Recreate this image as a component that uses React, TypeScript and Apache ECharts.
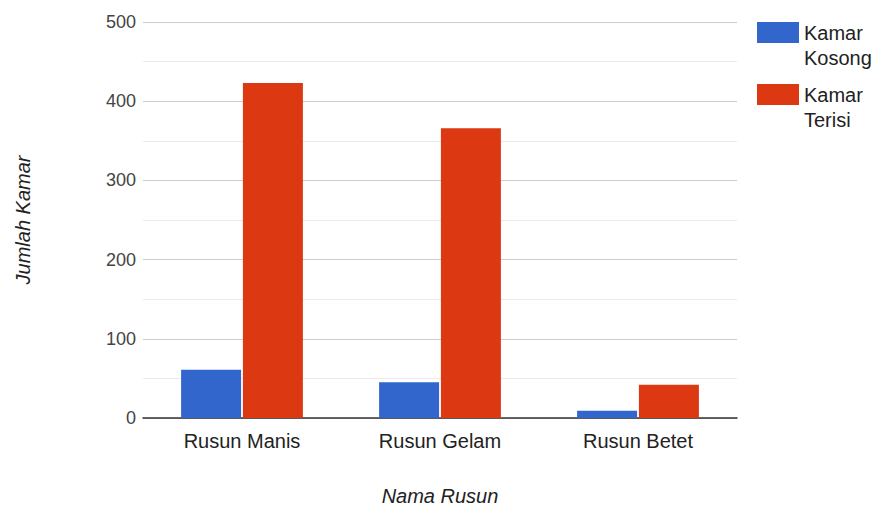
import React, { useEffect, useRef } from "react";
import * as echarts from "echarts";

const categories = ["Rusun Manis", "Rusun Gelam", "Rusun Betet"];
const kamarKosong = [61, 45, 9];
const kamarTerisi = [423, 366, 42];
const seriesNames = ["Kamar Kosong", "Kamar Terisi"];
const legendLabels: Record<string, string> = {
  "Kamar Kosong": "\u00a0\nKamar\nKosong",
  "Kamar Terisi": "\u00a0\nKamar\nTerisi",
};
const yMin = 0;
const yMax = 500;
const yInterval = 100;

const FONT = "'Liberation Sans', Arial, sans-serif";

export default function App() {
  const ref = useRef<HTMLDivElement>(null);
  useEffect(() => {
    if (!ref.current) return;
    const chart = echarts.init(ref.current, undefined, { renderer: "svg" });
    chart.setOption({
      animation: false,
      textStyle: { fontFamily: FONT },
      grid: {
        left: 143,
        right: 142,
        top: 22,
        bottom: 90,
        containLabel: false,
        outerBoundsMode: "none",
      },
      legend: {
        orient: "vertical",
        left: 757,
        top: -5,
        padding: 0,
        itemWidth: 42,
        itemHeight: 21,
        itemGap: -13,
        icon: "rect",
        data: seriesNames,
        formatter: (n: string) => legendLabels[n] ?? n,
        textStyle: {
          fontFamily: FONT,
          fontSize: 20,
          lineHeight: 25,
          color: "#222",
        },
      },
      xAxis: {
        type: "category",
        data: categories,
        name: "Nama Rusun",
        nameLocation: "middle",
        nameGap: 68,
        nameTextStyle: { fontFamily: FONT, fontSize: 20, fontStyle: "italic", color: "#222" },
        axisLine: { show: true, lineStyle: { color: "#333", width: 1.5 } },
        axisTick: { show: false },
        axisLabel: { fontFamily: FONT, fontSize: 20, color: "#222", margin: 13 },
      },
      yAxis: {
        type: "value",
        min: yMin,
        max: yMax,
        interval: yInterval,
        name: "Jumlah Kamar",
        nameLocation: "middle",
        nameGap: 110,
        nameRotate: 90,
        nameTextStyle: { fontFamily: FONT, fontSize: 20, fontStyle: "italic", color: "#222" },
        axisLine: { show: false },
        axisTick: { show: false },
        axisLabel: { fontFamily: FONT, fontSize: 18, color: "#444", margin: 7 },
        splitLine: { show: true, lineStyle: { color: "#cccccc", width: 1 } },
        minorTick: { show: false, splitNumber: 2 },
        minorSplitLine: { show: true, lineStyle: { color: "#ebebeb", width: 1 } },
      },
      series: [
        {
          name: seriesNames[0],
          type: "bar",
          data: kamarKosong,
          barWidth: 60,
          barGap: "3%",
          itemStyle: { color: "#3366cc" },
        },
        {
          name: seriesNames[1],
          type: "bar",
          data: kamarTerisi,
          barWidth: 60,
          barGap: "3%",
          itemStyle: { color: "#dc3912" },
        },
      ],
    });
    return () => chart.dispose();
  }, []);
  return (
    <div
      ref={ref}
      style={{ position: "fixed", left: 0, top: 0, width: 879, height: 508, background: "#fff" }}
    />
  );
}
